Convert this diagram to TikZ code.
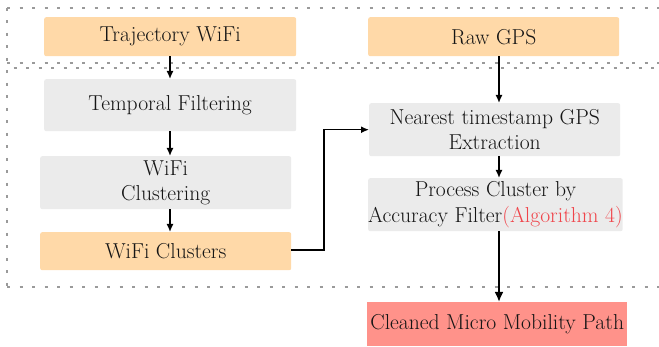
\documentclass[tikz,border=0pt]{standalone}
\usetikzlibrary{arrows.meta,calc}
\definecolor{peach}{HTML}{FFD9A8}
\definecolor{lgray}{HTML}{EBEBEB}
\definecolor{salmon}{HTML}{FF928A}
\definecolor{algred}{HTML}{F0444A}
\definecolor{txt}{HTML}{151515}
\definecolor{dotgray}{HTML}{9A9A9A}
\begin{document}
\begin{tikzpicture}[x=1pt,y=-1pt,
  box/.style={anchor=north west,inner sep=0pt,align=center,rounded corners=2pt,text=txt,
    font=\fontsize{21.6}{25.5}\selectfont},
  inbox/.style={box,fill=peach},
  procbox/.style={box,fill=lgray},
  outbox/.style={box,fill=salmon,rounded corners=0pt},
  conn/.style={line width=1.5pt,-{Latex[length=8pt,width=7pt]}},
  bigconn/.style={line width=2.3pt,-{Latex[length=10pt,width=9pt]}},
  sep/.style={dotgray,line width=1.3pt,dash pattern=on 3pt off 9.5pt}]
\useasboundingbox (0,0) rectangle (659,347);
% separators
\draw[sep] (7,8) -- (665,8);
\draw[sep] (7,8) -- (7,287);
\draw[sep] (7,63) -- (665,63);
\draw[sep,dash phase=6pt] (7,68) -- (665,68);
\draw[sep] (7,287) -- (665,287);
% nodes
\node[inbox,minimum width=252pt,minimum height=39pt] (traj) at (44,17) {Trajectory WiFi};
\node[inbox,minimum width=251pt,minimum height=39pt] (raw) at (368,17) {Raw GPS};
\node[procbox,minimum width=252pt,minimum height=52pt] (temp) at (44,79) {Temporal Filtering};
\node[procbox,minimum width=251pt,minimum height=53pt] (clus) at (40,156) {WiFi\\Clustering};
\node[inbox,minimum width=251pt,minimum height=38pt] (clusters) at (40,232) {WiFi Clusters};
\node[procbox,minimum width=251pt,minimum height=53pt] (near) at (369,103) {Nearest timestamp GPS\\Extraction};
\node[procbox,minimum width=251pt,minimum height=53pt] (proc) at (368,178) {Process Cluster by\\Accuracy Filter{\color{algred}(Algorithm 4)}};
\node[outbox,minimum width=260pt,minimum height=44pt] (clean) at (367,302) {Cleaned Micro Mobility Path};
% column coordinates
\coordinate (lc) at (170,0);
\coordinate (rc) at (499,0);
\coordinate (elbow) at (324,0);
% connectors
\draw[conn] (traj.south -| lc) -- (temp.north -| lc);
\draw[conn] (temp.south -| lc) -- (clus.north -| lc);
\draw[conn] (clus.south -| lc) -- (clusters.north -| lc);
\draw[conn] (clusters.east |- 0,250) -| (elbow |- near.west) -- (near.west);
\draw[conn] (raw.south -| rc) -- (near.north -| rc);
\draw[conn] (near.south -| rc) -- (proc.north -| rc);
\draw[bigconn] (proc.south -| rc) -- (clean.north -| rc);
\end{tikzpicture}
\end{document}
